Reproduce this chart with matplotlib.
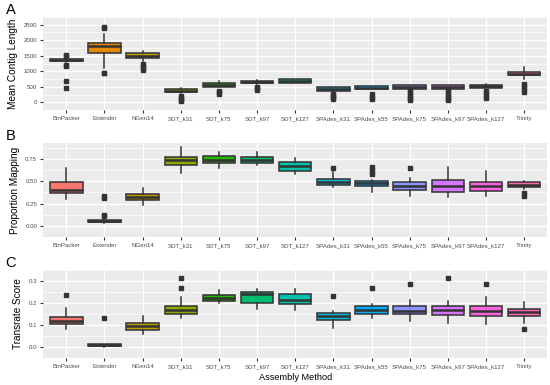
import matplotlib.pyplot as plt

plt.rcParams['font.family'] = ['Liberation Sans', 'DejaVu Sans']

methods = ['BinPacker', 'Extender', 'NGen14', 'SDT_k31', 'SDT_k75', 'SDT_k97', 'SDT_k127',
           'SPAdes_k31', 'SPAdes_k55', 'SPAdes_k75', 'SPAdes_k97', 'SPAdes_k127', 'Trinity']
colors = ['#F8766D', '#E18A00', '#BE9C00', '#8CAB00', '#24B700', '#00BE70', '#00C1AB',
          '#00BBDA', '#00ACFC', '#8B93FF', '#D575FE', '#F962DD', '#FF65AC']

# box stats: whislo, q1, median, q3, whishi, outliers
contig_low = [1290, 1110, 1330, 290, 490, 580, 620, 320, 420, 440, 440, 460, 740]
contig_q1 = [1340, 1580, 1440, 330, 500, 610, 630, 370, 415, 430, 435, 450, 875]
contig_med = [1370, 1810, 1500, 380, 560, 650, 700, 430, 470, 490, 495, 520, 920]
contig_q3 = [1400, 1900, 1580, 420, 620, 690, 750, 480, 515, 545, 545, 570, 965]
contig_high = [1450, 2190, 1640, 470, 680, 730, 760, 490, 530, 555, 555, 580, 1130]
contig_out = [[1530, 1490, 1210, 1180, 690, 470], [2440, 2400, 960, 930], [1250, 1180, 1100, 1040],
              [220, 150, 90, 50], [380, 330, 270], [510, 450, 410], [],
              [280, 220, 160, 110], [260, 180, 110], [400, 320, 250, 170, 100, 60],
              [400, 330, 250, 170, 100, 60], [360, 300, 220, 150], [600, 520, 430, 340]]

prop_low = [0.30, 0.03, 0.24, 0.595, 0.654, 0.678, 0.585, 0.44, 0.378, 0.334, 0.32, 0.334, 0.413]
prop_q1 = [0.37, 0.045, 0.29, 0.685, 0.70, 0.705, 0.616, 0.458, 0.444, 0.406, 0.382, 0.389, 0.44]
prop_med = [0.40, 0.06, 0.327, 0.74, 0.74, 0.733, 0.67, 0.488, 0.48, 0.447, 0.447, 0.45, 0.454]
prop_q3 = [0.488, 0.072, 0.36, 0.774, 0.784, 0.774, 0.712, 0.526, 0.499, 0.495, 0.513, 0.495, 0.49]
prop_high = [0.643, 0.10, 0.42, 0.884, 0.826, 0.826, 0.764, 0.60, 0.51, 0.54, 0.664, 0.612, 0.505]
prop_out = [[], [0.33, 0.31, 0.12, 0.11], [], [], [], [], [], [0.654], [0.66, 0.62, 0.58],
            [0.643], [], [], [0.37, 0.34]]

score_low = [0.084, 0.0, 0.061, 0.133, 0.20, 0.172, 0.168, 0.087, 0.133, 0.116, 0.11, 0.106, 0.11]
score_q1 = [0.1035, 0.003, 0.078, 0.151, 0.211, 0.198, 0.194, 0.123, 0.149, 0.149, 0.145, 0.142, 0.14]
score_med = [0.12, 0.008, 0.097, 0.168, 0.2226, 0.242, 0.2135, 0.142, 0.168, 0.162, 0.166, 0.162, 0.159]
score_q3 = [0.138, 0.013, 0.11, 0.185, 0.237, 0.25, 0.239, 0.155, 0.184, 0.185, 0.185, 0.184, 0.172]
score_high = [0.177, 0.015, 0.142, 0.229, 0.259, 0.265, 0.265, 0.162, 0.194, 0.2135, 0.211, 0.226, 0.204]
score_out = [[0.235], [0.133], [], [0.314, 0.269], [], [], [], [0.23], [0.269], [0.285], [0.314],
             [0.287], [0.084]]

panels = [
    ('A', 'Mean Contig Length', contig_low, contig_q1, contig_med, contig_q3, contig_high, contig_out,
     (-60, 2560), [0, 500, 1000, 1500, 2000, 2500], ['0', '500', '1000', '1500', '2000', '2500'],
     [0.956, 0.714]),
    ('B', 'Proportion Mapping', prop_low, prop_q1, prop_med, prop_q3, prop_high, prop_out,
     (-0.035, 0.93), [0, 0.25, 0.5, 0.75], ['0.00', '0.25', '0.50', '0.75'],
     [0.629, 0.384]),
    ('C', 'Transrate Score', score_low, score_q1, score_med, score_q3, score_high, score_out,
     (-0.013, 0.33), [0, 0.1, 0.2, 0.3], ['0.0', '0.1', '0.2', '0.3'],
     [0.299, 0.070]),
]

fig = plt.figure(figsize=(5.5, 3.85), dpi=100)
left, right = 0.079, 0.9945
dark = '#333333'

for letter, ylabel, lo, q1, med, q3, hi, out, ylim, yticks, yticklabels, (top, bottom) in panels:
    ax = fig.add_axes([left, bottom, right - left, top - bottom])
    ax.set_facecolor('#EBEBEB')
    stats = []
    for i in range(len(methods)):
        stats.append({'whislo': lo[i], 'q1': q1[i], 'med': med[i], 'q3': q3[i],
                      'whishi': hi[i], 'fliers': out[i]})
    bp = ax.bxp(stats, positions=range(1, len(methods) + 1), widths=0.85, patch_artist=True,
                showcaps=False,
                boxprops=dict(edgecolor=dark, linewidth=1.1),
                whiskerprops=dict(color=dark, linewidth=1.1),
                medianprops=dict(color=dark, linewidth=1.8),
                flierprops=dict(marker='s', markersize=2.8, markerfacecolor=dark,
                                markeredgecolor=dark))
    for patch, c in zip(bp['boxes'], colors):
        patch.set_facecolor(c)
        patch.set_zorder(3)
    for k in ['whiskers', 'medians', 'fliers']:
        for a in bp[k]:
            a.set_zorder(3)

    ax.set_xlim(0.4, 13.6)
    ax.set_ylim(*ylim)
    ax.set_yticks(yticks)
    ax.set_yticklabels(yticklabels)
    minor = [(yticks[j] + yticks[j + 1]) / 2 for j in range(len(yticks) - 1)]
    minor.append(yticks[-1] + (yticks[1] - yticks[0]) / 2)
    minor.insert(0, yticks[0] - (yticks[1] - yticks[0]) / 2)
    ax.set_yticks(minor, minor=True)
    ax.set_xticks(range(1, len(methods) + 1))
    ax.set_xticklabels(methods)
    ax.grid(True, which='major', color='white', linewidth=1.0, zorder=0)
    ax.grid(True, which='minor', axis='y', color='white', linewidth=0.5, zorder=0)
    ax.set_axisbelow(True)
    for s in ax.spines.values():
        s.set_visible(False)
    ax.tick_params(axis='both', which='major', length=2.5, width=0.8, color=dark,
                   labelsize=4.4, labelcolor='#4D4D4D', pad=2)
    ax.tick_params(axis='y', which='minor', length=0)
    ax.set_ylabel(ylabel, fontsize=7.2, color='black', labelpad=4)
    fig.text(0.01, top + 0.0, letter, fontsize=10.5, va='bottom', ha='left')
    if letter == 'C':
        ax.set_xlabel('Assembly Method', fontsize=6.6, labelpad=3)

fig.savefig('out.png', dpi=100)
